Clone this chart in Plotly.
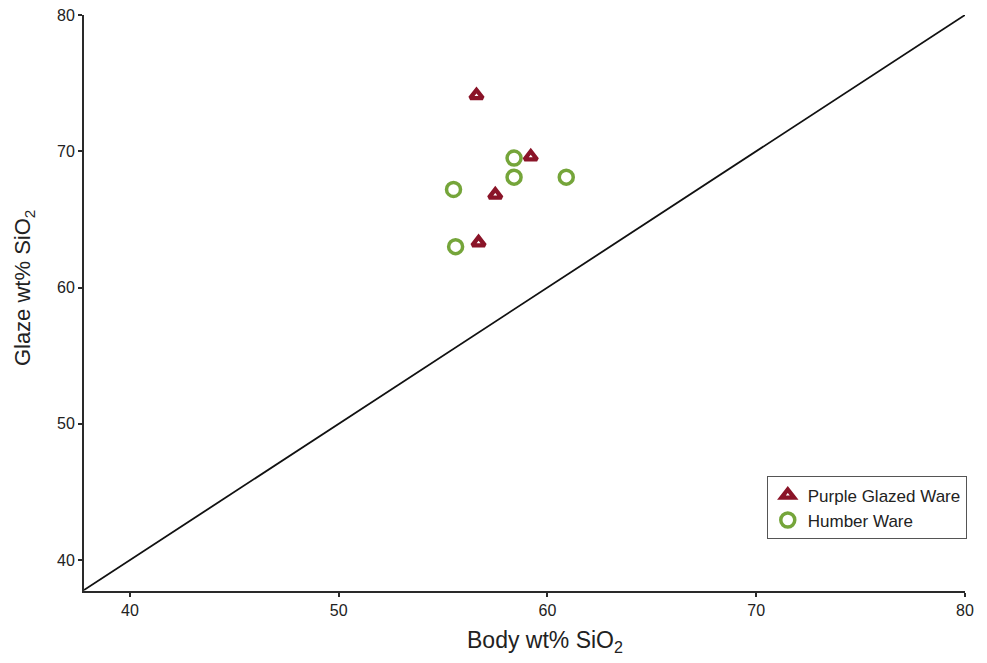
import plotly.graph_objects as go

# Data
purple_body = [56.6, 59.2, 57.5, 56.7]
purple_glaze = [74.1, 69.6, 66.8, 63.3]
humber_body = [58.4, 58.4, 60.9, 55.5, 55.6]
humber_glaze = [69.5, 68.1, 68.1, 67.2, 63.0]
line_x = [37.8, 80]
line_y = [37.8, 80]
tick_vals = [40, 50, 60, 70, 80]

PURPLE = "#8a1428"
GREEN = "#75a53a"
AXIS = "#2a2a2a"

fig = go.Figure()
fig.add_trace(go.Scatter(x=line_x, y=line_y, mode="lines",
                         line=dict(color="#111111", width=1.8),
                         showlegend=False, hoverinfo="skip"))
fig.add_trace(go.Scatter(x=purple_body, y=purple_glaze, mode="markers",
                         name="Purple Glazed Ware",
                         marker=dict(symbol="triangle-up-open", size=11,
                                     color=PURPLE, line=dict(color=PURPLE, width=4.3))))
fig.add_trace(go.Scatter(x=humber_body, y=humber_glaze, mode="markers",
                         name="Humber Ware",
                         marker=dict(symbol="circle-open", size=14,
                                     color=GREEN, line=dict(color=GREEN, width=3.5))))

tickfont = dict(family="Liberation Sans Narrow, Arial Narrow, Liberation Sans, sans-serif",
                size=16, color="#222222")
titlefont = dict(family="Liberation Sans, Arial, sans-serif", size=23, color="#222222")

fig.update_layout(
    width=979, height=655,
    margin=dict(l=76, r=22, t=7, b=72, autoexpand=False),
    paper_bgcolor="white", plot_bgcolor="white",
    xaxis=dict(range=[37.8, 80], tickvals=tick_vals, ticks="outside", ticklen=4,
               tickwidth=1.5, tickcolor=AXIS, showline=True, linecolor=AXIS,
               linewidth=2, showgrid=False, zeroline=False, tickfont=tickfont,
               automargin=False, ticklabeloverflow="allow"),
    yaxis=dict(range=[37.73, 80], tickvals=tick_vals, ticks="outside", ticklen=4,
               tickwidth=1.5, tickcolor=AXIS, showline=True, linecolor=AXIS,
               linewidth=2, showgrid=False, zeroline=False, tickfont=tickfont,
               automargin=False, ticklabeloverflow="allow"),
    legend=dict(x=0.775, y=0.199, xanchor="left", yanchor="top",
                bgcolor="white", bordercolor="#555555", borderwidth=1,
                font=dict(family="Liberation Sans, Arial, sans-serif", size=17, color="#222222"),
                tracegroupgap=0, itemsizing="trace", itemwidth=30),
    annotations=[
        dict(text="Body wt% SiO<sub>2</sub>", xref="paper", yref="paper",
             x=0.523, y=-0.088, xanchor="center", yanchor="middle",
             showarrow=False, font=titlefont),
        dict(text="Glaze wt% SiO<sub>2</sub>", xref="paper", yref="paper",
             x=-0.068, y=0.526, xanchor="center", yanchor="middle", textangle=-90,
             showarrow=False, font=dict(family="Liberation Sans, Arial, sans-serif",
                                        size=22, color="#222222")),
    ],
)

fig.write_html("out.html")
